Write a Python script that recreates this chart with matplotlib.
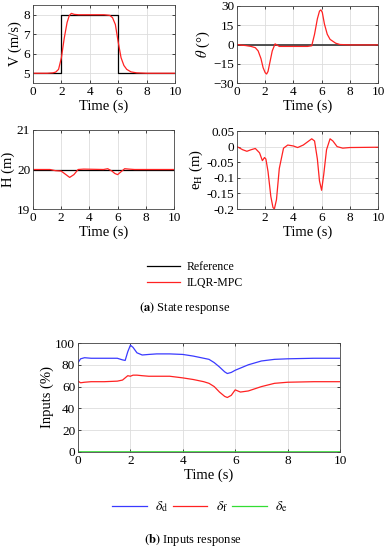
import numpy as np
import matplotlib
matplotlib.use('Agg')
import matplotlib.pyplot as plt
from matplotlib.lines import Line2D

plt.rcParams['font.family'] = ['Liberation Serif', 'DejaVu Serif']
plt.rcParams['mathtext.fontset'] = 'stix'
plt.rcParams['font.size'] = 9

RED = '#ff2222'
BLUE = '#3a3aff'
GREEN = '#33dd33'

# ---- state response data ----
t_ref = [0, 2, 2, 6, 6, 10]
v_ref = [5, 5, 8, 8, 5, 5]
t_v = [0, 1.0, 1.4, 1.6, 1.8, 2.0, 2.2, 2.4, 2.55, 2.7, 2.9, 3.2, 5.0, 5.4, 5.6, 5.8, 6.0, 6.2, 6.4, 6.6, 6.9, 7.3, 8, 10]
v_red = [5, 5, 5.02, 5.06, 5.2, 5.8, 6.8, 7.6, 7.95, 8.07, 8.02, 8.0, 8.0, 7.97, 7.85, 7.5, 6.6, 5.8, 5.4, 5.2, 5.07, 5.02, 5, 5]

t_th = [0, 0.3, 0.6, 1.0, 1.3, 1.5, 1.7, 1.85, 2.0, 2.1, 2.2, 2.35, 2.5, 2.7, 2.85, 3.0, 4.0, 5.0, 5.3, 5.5, 5.7, 5.85, 5.95, 6.05, 6.2, 6.4, 6.6, 6.8, 7.0, 7.3, 8, 10]
th_red = [0, -0.5, -0.8, -1.5, -2.5, -5, -11, -18, -22, -23, -21, -13, -5, 0.5, -0.5, -1.5, -1.5, -1.5, -1, 8, 20, 26, 27, 25, 16, 8, 4, 2.5, 1, 0, -0.3, -0.3]
th_ref = [0, 0, 0, 0, 0, 0]

t_h = [0, 1.2, 1.6, 2.0, 2.3, 2.6, 2.9, 3.2, 3.6, 5.0, 5.3, 5.6, 5.8, 6.0, 6.2, 6.5, 6.8, 7.2, 10]
h_red = [20, 20, 19.97, 19.96, 19.88, 19.8, 19.87, 20, 20.01, 20.0, 20.02, 19.96, 19.9, 19.87, 19.93, 20.02, 20.01, 20, 20]
h_ref = [20, 20, 20, 20, 20, 20]

t_eh = [0, 0.4, 0.7, 1.0, 1.3, 1.6, 1.8, 1.95, 2.05, 2.2, 2.4, 2.55, 2.65, 2.8, 3.0, 3.3, 3.6, 4.0, 4.3, 4.7, 5.0, 5.3, 5.5, 5.7, 5.85, 6.0, 6.15, 6.35, 6.6, 6.8, 7.1, 7.5, 8.0, 10]
eh_red = [0, -0.01, -0.015, -0.01, -0.006, -0.02, -0.045, -0.035, -0.04, -0.08, -0.16, -0.195, -0.2, -0.17, -0.07, -0.005, 0.005, 0.002, -0.003, 0.005, 0.015, 0.025, 0.018, -0.04, -0.11, -0.14, -0.09, -0.01, 0.025, 0.018, 0.0, -0.005, -0.003, -0.002]

# ---- inputs data ----
t_u = [0, 0.1, 0.25, 0.5, 1.0, 1.5, 1.7, 1.8, 1.9, 2.0, 2.1, 2.25, 2.45, 2.7, 3.0, 3.5, 4.0, 4.4, 4.8, 5.0, 5.2, 5.4, 5.6, 5.7, 5.85, 6.0, 6.2, 6.5, 7.0, 7.5, 8.0, 9.0, 10]
u_d = [82, 85.5, 86.5, 86, 86, 86, 84.5, 84, 92, 98, 96, 91, 89, 89.5, 90, 90, 89.5, 88, 86, 85, 82, 78, 73.5, 72, 73, 75, 77, 80, 83.5, 85, 85.5, 86, 86]
u_f = [65, 63.5, 64, 64.5, 64.5, 65, 66, 68, 70, 69.5, 70.5, 70.5, 70, 69.5, 69.5, 69.5, 68, 66.5, 64.5, 63, 60, 55, 51, 50, 52, 57, 55, 56, 60, 63, 64, 64.5, 64.5]
u_e = [0] * len(t_u)

fig = plt.figure(figsize=(3.87, 5.5), dpi=100)
W, H = 387, 550


def add_ax(x0, x1, ytop, ybot):
    return fig.add_axes([x0 / W, 1 - ybot / H, (x1 - x0) / W, (ybot - ytop) / H])


def style(ax):
    ax.grid(True, color='#dddddd', linewidth=0.6)
    ax.set_axisbelow(True)
    ax.tick_params(direction='in', length=2, width=0.5, top=True, right=True, pad=2, labelsize=9.5)
    for s in ax.spines.values():
        s.set_linewidth(0.6)
        s.set_color('#444444')
    ax.set_xlim(0, 10)
    ax.set_xlabel('Time (s)', fontsize=10.5, labelpad=1)


# V
ax1 = add_ax(33, 175, 5, 83)
ax1.plot(t_ref, v_ref, color='black', lw=0.9)
ax1.plot(t_v, v_red, color=RED, lw=0.9)
ax1.set_ylim(4.5, 8.5)
ax1.set_yticks([5, 6, 7, 8])
ax1.set_xticks([0, 2, 4, 6, 8, 10])
ax1.set_ylabel('V (m/s)', fontsize=10.5, labelpad=1)
style(ax1)

# theta
ax2 = add_ax(237, 378, 6, 83)
ax2.plot(t_ref, th_ref, color='#333333', lw=1.2)
ax2.plot(t_th, th_red, color=RED, lw=0.9)
ax2.set_ylim(-30, 30)
ax2.set_yticks([-30, -15, 0, 15, 30])
ax2.set_xticks([0, 2, 4, 6, 8, 10])
ax2.set_ylabel(r'$\theta$ (°)', fontsize=10.5, labelpad=1)
style(ax2)

# H
ax3 = add_ax(33, 174, 130, 209)
ax3.plot(t_ref, h_ref, color='black', lw=0.9)
ax3.plot(t_h, h_red, color=RED, lw=0.9)
ax3.set_ylim(19, 21)
ax3.set_yticks([19, 20, 21])
ax3.set_xticks([0, 2, 4, 6, 8, 10])
ax3.set_ylabel('H (m)', fontsize=10.5, labelpad=1)
style(ax3)

# e_H
ax4 = add_ax(237, 378, 131, 209)
ax4.plot(t_eh, eh_red, color=RED, lw=0.9)
ax4.set_ylim(-0.2, 0.05)
ax4.set_yticks([-0.2, -0.15, -0.1, -0.05, 0, 0.05])
ax4.set_yticklabels(['-0.2', '-0.15', '-0.1', '-0.05', '0', '0.05'])
ax4.set_xticks([2, 4, 6, 8, 10])
ax4.set_ylabel(r'e$_\mathrm{H}$ (m)', fontsize=10.5, labelpad=1)
style(ax4)

# legend (a)
handles_a = [Line2D([], [], color='black', lw=0.9), Line2D([], [], color=RED, lw=0.9)]
fig.legend(handles_a, ['Reference', 'ILQR-MPC'], loc='center', bbox_to_anchor=(195 / W, 1 - 275 / H),
           frameon=False, fontsize=8.5, handlelength=2.8, labelspacing=0.3, handletextpad=0.6)
fig.text(185 / W, 1 - 308 / H, r'$\mathbf{(a)}$ State response', ha='center', va='center', fontsize=9)

# inputs
ax5 = add_ax(78, 340, 343, 452)
ax5.plot(t_u, u_d, color=BLUE, lw=0.9)
ax5.plot(t_u, u_f, color=RED, lw=0.9)
ax5.plot(t_u, u_e, color=GREEN, lw=1.2)
ax5.set_ylim(0, 100)
ax5.set_yticks([0, 20, 40, 60, 80, 100])
ax5.set_xticks([0, 2, 4, 6, 8, 10])
ax5.set_ylabel('Inputs (%)', fontsize=10.5, labelpad=1)
style(ax5)

handles_b = [Line2D([], [], color=BLUE, lw=0.9), Line2D([], [], color=RED, lw=0.9),
             Line2D([], [], color=GREEN, lw=0.9)]
fig.legend(handles_b, [r'$\delta_\mathrm{d}$', r'$\delta_\mathrm{f}$', r'$\delta_\mathrm{e}$'],
           loc='center', bbox_to_anchor=(200 / W, 1 - 507 / H), ncol=3, frameon=False, fontsize=10,
           handlelength=2.5, handletextpad=0.6, columnspacing=0.3)
fig.text(193 / W, 1 - 540 / H, r'$\mathbf{(b)}$ Inputs response', ha='center', va='center', fontsize=9)

fig.savefig('out.png', dpi=100)
